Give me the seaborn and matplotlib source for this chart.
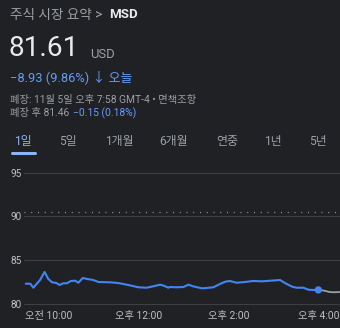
import matplotlib
matplotlib.use("Agg")
import matplotlib.pyplot as plt
from matplotlib.lines import Line2D
import seaborn as sns
import pandas as pd

# ---- data (minutes since 9:30 market open, price in USD) ----
reg_minutes = [0, 6, 10, 19, 25, 30, 35, 41, 45, 50, 55, 60, 66, 70, 76, 82, 90, 97,
               112, 123, 132, 141, 150, 161, 170, 179, 184, 190, 192, 201, 210, 217,
               223, 235, 241, 250, 259, 266, 272, 281, 292, 303, 315, 326, 339, 346,
               355, 361, 370, 377, 383, 390]
reg_prices = [82.32, 82.32, 81.86, 82.74, 83.66, 82.86, 82.48, 82.40, 82.17, 82.37,
              82.37, 82.63, 82.66, 82.43, 82.97, 82.86, 82.74, 82.51, 82.48, 82.40,
              82.25, 82.09, 81.91, 81.86, 82.02, 82.21, 82.09, 81.86, 81.94, 81.91,
              81.94, 82.21, 82.02, 81.79, 81.83, 81.91, 82.29, 82.55, 82.63, 82.43,
              82.51, 82.63, 82.59, 82.66, 82.74, 82.37, 81.98, 81.86, 81.86, 81.63,
              81.60, 81.61]
ah_minutes = [390, 398, 405, 411, 418]
ah_prices = [81.61, 81.52, 81.37, 81.34, 81.37]
prev_close = 90.54
y_ticks = [80, 85, 90, 95]
x_ticks = [30, 150, 270, 390]
x_labels = ["오전 10:00", "오후 12:00", "오후 2:00", "오후 4:00"]
tabs = ["1일", "5일", "1개월", "6개월", "연중", "1년", "5년"]

BG = "#202124"
GRID = "#3c4043"
GRAY = "#9aa0a6"
LIGHT = "#e8eaed"
BLUE = "#669df6"
TABBLUE = "#8ab4f8"
LINE = "#4285f4"
FAM = ["Roboto", "Noto Sans CJK KR", "DejaVu Sans"]

sns.set_theme(style="dark")
plt.rcParams["font.family"] = FAM
plt.rcParams["axes.unicode_minus"] = True

W, H = 340, 328
fig = plt.figure(figsize=(W / 100, H / 100), dpi=100, facecolor=BG)

def fx(x):
    return x / W

def fy(y):
    return 1 - y / H

ax_bottom, ax_top = 304, 165
ax = fig.add_axes([fx(24), fy(ax_bottom), 1 - fx(24), (ax_bottom - ax_top) / H])
ax.set_facecolor(BG)

reg = pd.DataFrame({"t": reg_minutes, "p": reg_prices})
ah = pd.DataFrame({"t": ah_minutes, "p": ah_prices})
sns.lineplot(data=ah, x="t", y="p", ax=ax, color="#9aa0a6", lw=1.3, zorder=3)
sns.lineplot(data=reg, x="t", y="p", ax=ax, color=LINE, lw=1.5, zorder=4)
sns.scatterplot(x=reg_minutes[-1:], y=reg_prices[-1:], ax=ax, color=LINE, s=28,
                edgecolor="none", zorder=5)

ax.axhline(prev_close, color=GRAY, lw=0.9, ls=(0, (0.8, 4.6)), zorder=2)

px_per_unit = 8.753
ax.set_ylim(80, 80 + (ax_bottom - ax_top) / px_per_unit)
ax.set_xlim(-2.4, 418.9)
ax.set_yticks(y_ticks)
ax.set_yticklabels([str(v) for v in y_ticks])
ax.set_xticks(x_ticks)
ax.set_xticklabels(x_labels)
ax.grid(False)
for v in y_ticks[1:]:
    ax.axhline(v, color=GRID, lw=0.8, zorder=1)
for s in ["top", "right", "left"]:
    ax.spines[s].set_visible(False)
ax.spines["bottom"].set_color(GRID)
ax.spines["bottom"].set_linewidth(0.8)
ax.tick_params(axis="y", length=0, pad=1.5, labelsize=7.2, labelcolor="#bdc1c6")
ax.tick_params(axis="x", length=4.3, width=0.7, color=GRID, pad=1,
               labelsize=7.4, labelcolor="#bdc1c6", direction="out")
ax.set_xlabel("")
ax.set_ylabel("")

# ---- header texts ----
fig.text(fx(10), fy(15), "주식 시장 요약 >", color=GRAY, fontsize=9.8, va="center", ha="left")
fig.text(fx(109), fy(15), "MSD", color=LIGHT, fontsize=9.6, fontweight="bold",
         va="center", ha="left")
fig.text(fx(9), fy(48.5), "81.61", color=LIGHT, fontsize=20.2, va="center", ha="left")
fig.text(fx(90), fy(54), "USD", color=GRAY, fontsize=9.4, va="center", ha="left")
fig.text(fx(10), fy(77.5), "−8.93 (9.86%) ↓ 오늘", color=BLUE, fontsize=9.3,
         va="center", ha="left")
fig.text(fx(10), fy(99.5), "폐장: 11월 5일 오후 7:58 GMT-4 • 면책조항", color=GRAY,
         fontsize=7.4, va="center", ha="left")
fig.text(fx(10), fy(113.5), "폐장 후 81.46", color=GRAY, fontsize=7.4, va="center", ha="left")
fig.text(fx(73), fy(113.5), "−0.15 (0.18%)", color=BLUE, fontsize=7.4, va="center", ha="left")

tab_x = [23, 68, 119, 174, 227, 273, 318]
for i, (lab, xc) in enumerate(zip(tabs, tab_x)):
    fig.text(fx(xc), fy(141.7), lab, color=TABBLUE if i == 0 else GRAY, fontsize=8.6,
             va="center", ha="center")
fig.add_artist(Line2D([fx(11.5), fx(34.5)], [fy(153.3), fy(153.3)], color=TABBLUE,
                      lw=2.2, solid_capstyle="round"))

fig.savefig("out.png", dpi=100, facecolor=BG)
